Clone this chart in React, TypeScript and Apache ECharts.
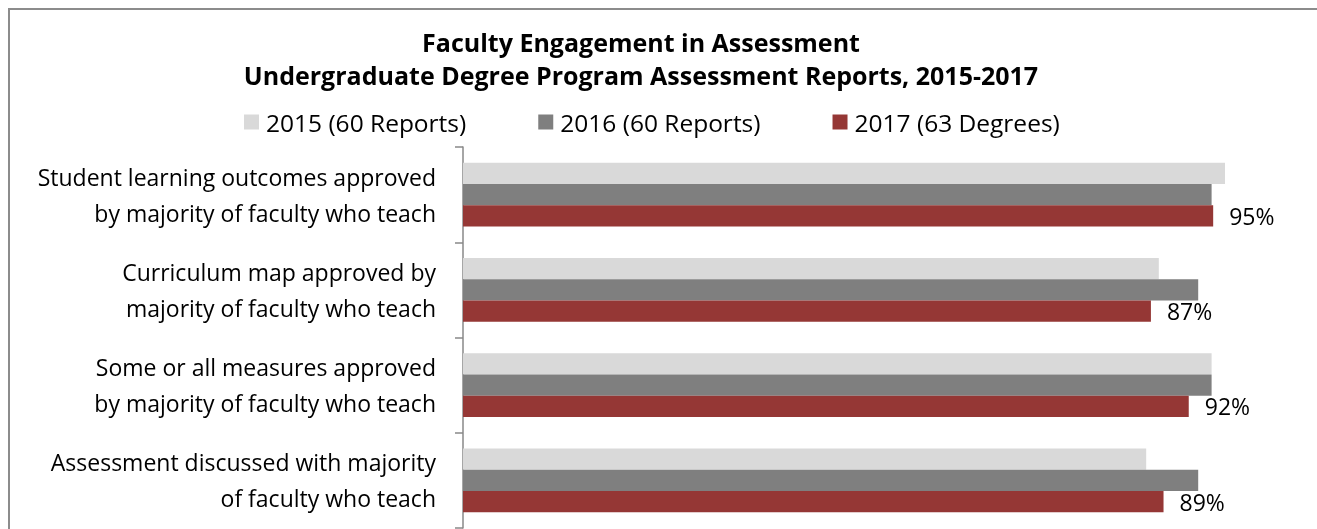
import React, { useEffect, useRef } from "react";
import * as echarts from "echarts";

const categories = [
  "Student learning outcomes approved\nby majority of faculty who teach",
  "Curriculum map approved by\nmajority of faculty who teach",
  "Some or all measures approved\nby majority of faculty who teach",
  "Assessment discussed with majority\nof faculty who teach",
];
const seriesNames = ["2015 (60 Reports)", "2016 (60 Reports)", "2017 (63 Degrees)"];
const values2015 = [96.7, 88.3, 95.0, 86.7];
const values2016 = [95.0, 93.3, 95.0, 93.3];
const values2017 = [95.2, 87.3, 92.1, 88.9];
const colors = ["#D9D9D9", "#7F7F7F", "#953735"];

const FONT = "'Open Sans', 'Noto Sans', sans-serif";

export default function App() {
  const ref = useRef<HTMLDivElement>(null);
  useEffect(() => {
    document.documentElement.style.overflow = "hidden";
    document.body.style.overflow = "hidden";
    if (!ref.current) return;
    const chart = echarts.init(ref.current, null, { renderer: "svg" });
    const data = [values2015, values2016, values2017];
    chart.setOption({
      animation: false,
      textStyle: { fontFamily: FONT },
      graphic: [
        {
          type: "line",
          shape: { x1: 0, y1: 1, x2: 1320, y2: 1 },
          style: { stroke: "#8C8C8C", lineWidth: 2 },
          silent: true,
        },
        {
          type: "line",
          shape: { x1: 1, y1: 0, x2: 1, y2: 540 },
          style: { stroke: "#8C8C8C", lineWidth: 2 },
          silent: true,
        },
      ],
      title: {
        text: "Faculty Engagement in Assessment\nUndergraduate Degree Program Assessment Reports, 2015-2017",
        left: 628,
        textAlign: "center",
        top: 12,
        textStyle: {
          fontFamily: FONT,
          fontWeight: "bold",
          fontSize: 25,
          lineHeight: 33,
          color: "#000",
        },
      },
      legend: {
        left: 231,
        top: 94,
        itemWidth: 15,
        itemHeight: 15,
        itemGap: 72,
        icon: "rect",
        textStyle: {
          fontFamily: FONT,
          fontSize: 24.5,
          lineHeight: 30,
          color: "#000",
          padding: [0, 0, 0, 2],
        },
        data: seriesNames,
      },
      grid: { left: 455, top: 139, width: 788, height: 381, containLabel: false },
      xAxis: {
        type: "value",
        min: 0,
        max: 100,
        show: false,
      },
      yAxis: {
        type: "category",
        inverse: true,
        data: categories,
        axisLine: { show: true, lineStyle: { color: "#888888", width: 1.5 } },
        axisTick: { show: true, length: 8, lineStyle: { color: "#888888", width: 1.5 } },
        axisLabel: {
          margin: 27,
          fontFamily: FONT,
          fontSize: 23,
          lineHeight: 36,
          color: "#000",
          align: "right",
          padding: [6, 0, 0, 0],
        },
      },
      series: seriesNames.map((name, i) => ({
        name,
        type: "bar",
        data: data[i],
        barGap: "0%",
        barCategoryGap: "33%",
        itemStyle: { color: colors[i] },
        label:
          i === 2
            ? {
                show: true,
                position: "right",
                distance: 16,
                fontFamily: FONT,
                fontSize: 23,
                color: "#000",
                formatter: (p: any) => Math.round(p.value) + "%",
              }
            : { show: false },
      })),
    });
    return () => chart.dispose();
  }, []);
  return (
    <div
      style={{
        position: "fixed",
        left: 8,
        top: 8,
        width: 1309,
        height: 521,
        overflow: "hidden",
      }}
    >
      <div ref={ref} style={{ width: 1309, height: 521 }} />
    </div>
  );
}
